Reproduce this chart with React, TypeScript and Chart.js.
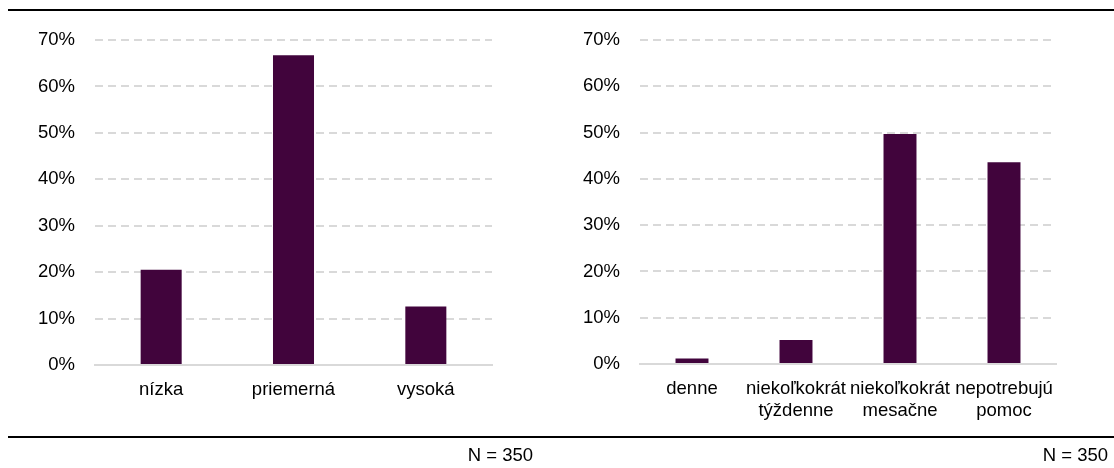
import React, { useEffect, useRef } from "react";
import { Chart, registerables } from "chart.js";

Chart.register(...registerables);

// ---- data ----
const leftCategories: string[] = ["nízka", "priemerná", "vysoká"];
const leftValues: number[] = [20.5, 66.7, 12.6];

const rightCategories: string[][] = [
  ["denne"],
  ["niekoľkokrát", "týždenne"],
  ["niekoľkokrát", "mesačne"],
  ["nepotrebujú", "pomoc"],
];
const rightValues: number[] = [1.2, 5.2, 49.7, 43.6];

const yMin = 0;
const yMax = 70;
const yStep = 10;
const sampleNote = "N = 350";

// ---- style ----
const FONT_FAMILY = "'Liberation Sans', Arial, sans-serif";
const FONT_SIZE = 18.5;
const BAR_COLOR = "#41043C";
const GRID_COLOR = "#D9D9D9";
const TEXT_COLOR = "#000000";
const W = 557;
const H = 468;

type PanelProps = {
  labels: (string | string[])[];
  values: number[];
  axisWidth: number;
  padRight: number;
  barPct: number;
  bottomY: number;
};

function Panel({ labels, values, axisWidth, padRight, barPct, bottomY }: PanelProps) {
  const ref = useRef<HTMLCanvasElement | null>(null);
  useEffect(() => {
    if (!ref.current) return;
    const font = { family: FONT_FAMILY, size: FONT_SIZE, lineHeight: 1.2 };
    const chart = new Chart(ref.current, {
      type: "bar",
      data: {
        labels,
        datasets: [
          {
            data: values,
            backgroundColor: BAR_COLOR,
            borderWidth: 0,
            barPercentage: barPct,
            categoryPercentage: 1,
          },
        ],
      },
      options: {
        responsive: false,
        animation: false,
        devicePixelRatio: 1,
        layout: { padding: { top: 40, right: padRight, left: 0, bottom: 0 } },
        plugins: {
          legend: { display: false },
          tooltip: { enabled: false },
        },
        scales: {
          x: {
            grid: { display: false, drawTicks: false },
            border: { display: true, color: GRID_COLOR, width: 2 },
            ticks: {
              font,
              color: TEXT_COLOR,
              padding: 14,
              maxRotation: 0,
              minRotation: 0,
              autoSkip: false,
            },
            afterFit: (s: any) => {
              s.height = H - bottomY;
            },
          },
          y: {
            min: yMin,
            max: yMax,
            ticks: {
              stepSize: yStep,
              font,
              color: TEXT_COLOR,
              padding: 20,
              callback: (v: any) => `${v}%`,
            },
            grid: { color: GRID_COLOR, lineWidth: 2, drawTicks: false },
            border: { display: false, dash: [8, 5] },
            afterFit: (s: any) => {
              s.width = axisWidth;
            },
          },
        },
      },
    });
    return () => chart.destroy();
  }, []);
  return <canvas ref={ref} width={W} height={H} style={{ display: "block", width: W, height: H }} />;
}

export default function App() {
  const textStyle: React.CSSProperties = {
    position: "absolute",
    fontFamily: FONT_FAMILY,
    fontSize: FONT_SIZE,
    color: TEXT_COLOR,
    lineHeight: "20px",
    whiteSpace: "nowrap",
  };
  return (
    <div style={{ position: "fixed", left: 0, top: 0, width: 1114, height: 468, background: "#fff", overflow: "hidden" }}>
      <div style={{ position: "absolute", left: 0, top: 0 }}>
        <Panel labels={leftCategories} values={leftValues} axisWidth={95} padRight={65} barPct={0.31} bottomY={365} />
      </div>
      <div style={{ position: "absolute", left: 557, top: 0 }}>
        <Panel labels={rightCategories} values={rightValues} axisWidth={83} padRight={58} barPct={0.317} bottomY={364} />
      </div>
      <div style={{ position: "absolute", left: 8, top: 9, width: 1106, height: 2, background: "#000" }} />
      <div style={{ position: "absolute", left: 8, top: 436, width: 1106, height: 2, background: "#000" }} />
      <div style={{ ...textStyle, right: 1114 - 533, top: 445 }}>{sampleNote}</div>
      <div style={{ ...textStyle, right: 1114 - 1108, top: 445 }}>{sampleNote}</div>
    </div>
  );
}
